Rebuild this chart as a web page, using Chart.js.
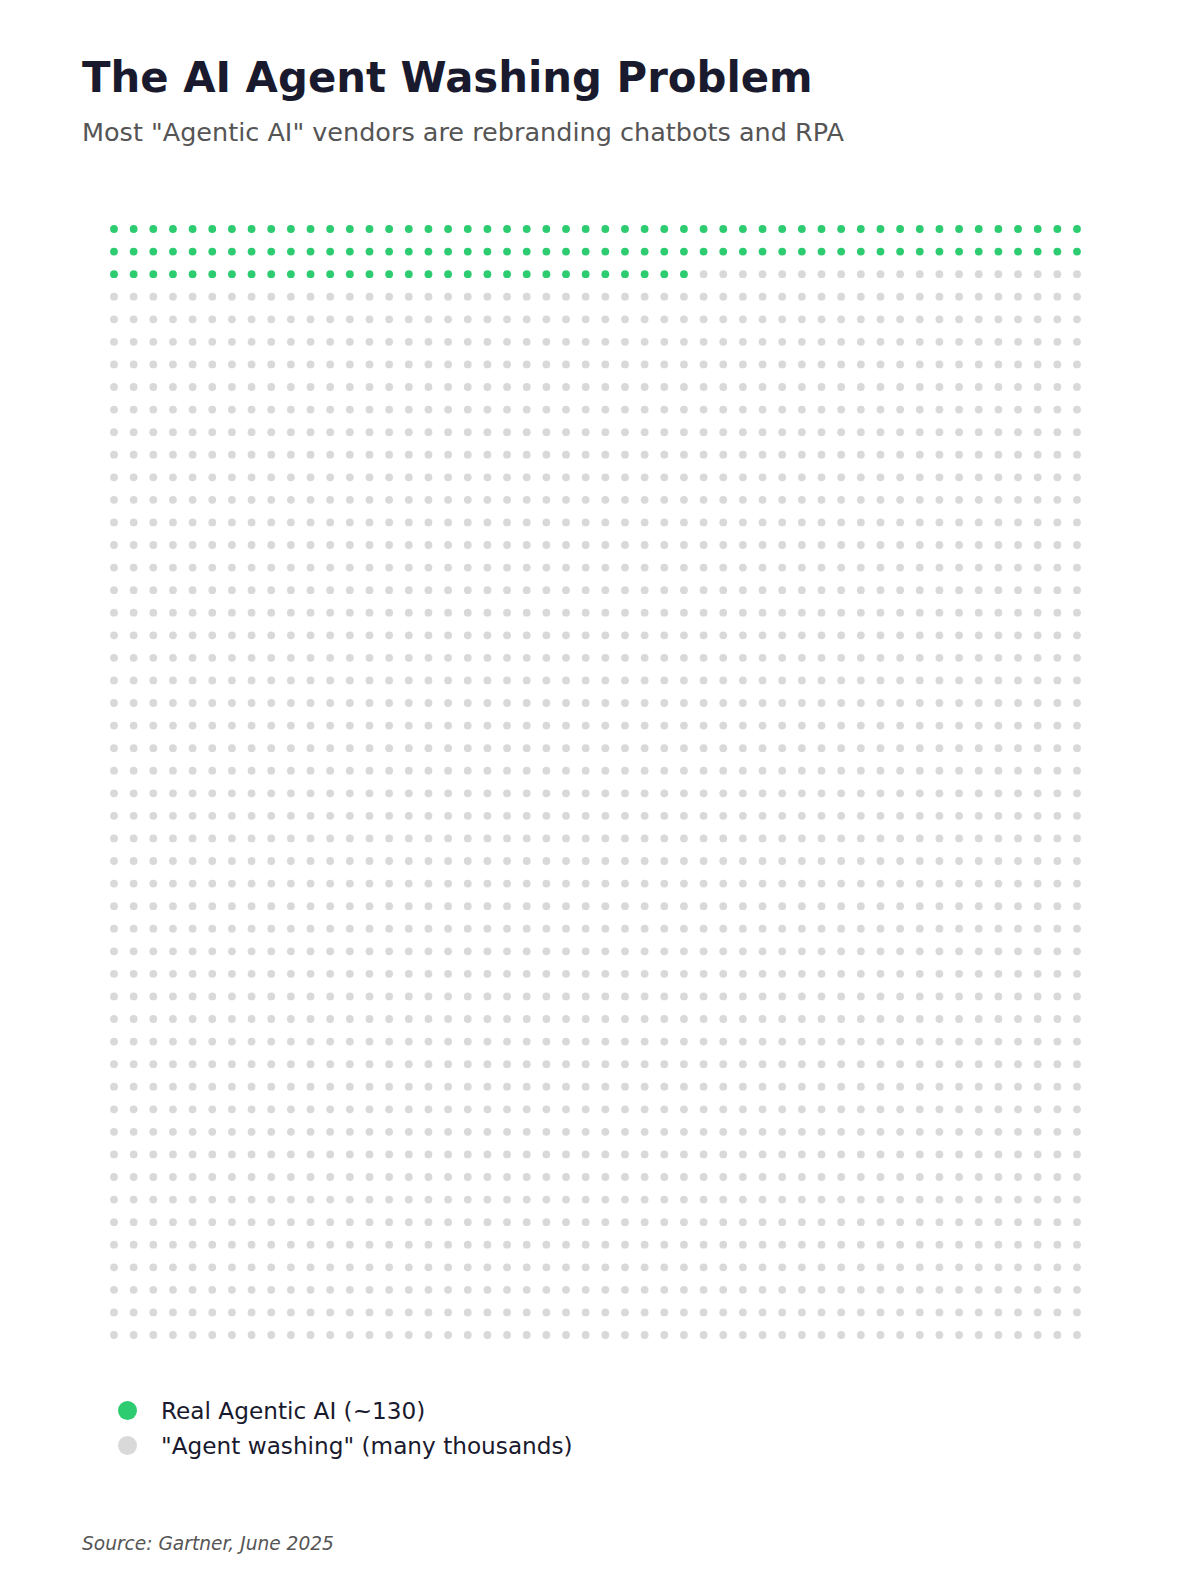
<!DOCTYPE html>
<html>
<head>
<meta charset="utf-8">
<script src="https://cdn.jsdelivr.net/npm/chart.js@4/dist/chart.umd.min.js"></script>
<style>
  html, body { margin: 0; padding: 0; background: #ffffff; overflow: hidden; }
  body { width: 1200px; height: 1586px; position: relative; font-family: "DejaVu Sans", sans-serif; }
  h1 { position: absolute; left: 82px; top: 57px; margin: 0; font-size: 41.8px; font-weight: bold; color: #1a1a2e; line-height: 1; }
  .sub { position: absolute; left: 82px; top: 117px; margin: 0; font-size: 25.5px; color: #555555; line-height: 1.2; }
  .chartBox { position: absolute; left: 104px; top: 219px; width: 983px; height: 1126px; }
  .legend { position: absolute; left: 118px; top: 1393px; }
  .legend div { height: 35px; font-size: 23.2px; color: #1a1a2e; display: flex; align-items: center; }
  .legend span.dot { display: inline-block; width: 19px; height: 19px; border-radius: 50%; margin-right: 24px; }
  .src { position: absolute; left: 82px; top: 1533px; font-size: 18.6px; font-style: italic; color: #555555; }
</style>
</head>
<body>
<h1>The AI Agent Washing Problem</h1>
<div class="sub">Most "Agentic AI" vendors are rebranding chatbots and RPA</div>
<div class="chartBox"><canvas id="waffle"></canvas></div>
<div class="legend" id="legend"></div>
<div class="src">Source: Gartner, June 2025</div>
<script>
// waffle data: one dot per vendor (approx.)
const categories = ["Real Agentic AI (~130)", "\"Agent washing\" (many thousands)"];
const counts = [130, 2370];
const colors = ["#2ecc71", "#d9d9d9"];
const gridCols = 50;
const gridRows = 50;

// lay the dots out row by row, top-left first
var datasets = [];
var idx = 0;
for (var c = 0; c < categories.length; c++) {
  var pts = [];
  for (var k = 0; k < counts[c]; k++) {
    pts.push({ x: idx % gridCols, y: Math.floor(idx / gridCols) });
    idx++;
  }
  datasets.push({
    label: categories[c],
    data: pts,
    backgroundColor: colors[c],
    borderWidth: 0,
    pointRadius: 3.9,
    pointHoverRadius: 3.9,
    clip: false
  });
}

new Chart(document.getElementById("waffle"), {
  type: 'scatter',
  data: { datasets: datasets },
  options: {
    responsive: true,
    maintainAspectRatio: false,
    animation: false,
    layout: { padding: 10 },
    plugins: { legend: { display: false }, tooltip: { enabled: false } },
    scales: {
      x: { min: 0, max: gridCols - 1, display: false },
      y: { min: 0, max: gridRows - 1, reverse: true, display: false }
    }
  }
});

var legendEl = document.getElementById("legend");
for (var i = 0; i < categories.length; i++) {
  var row = document.createElement("div");
  row.innerHTML = '<span class="dot" style="background:' + colors[i] + '"></span>';
  row.appendChild(document.createTextNode(categories[i]));
  legendEl.appendChild(row);
}
</script>
</body>
</html>
